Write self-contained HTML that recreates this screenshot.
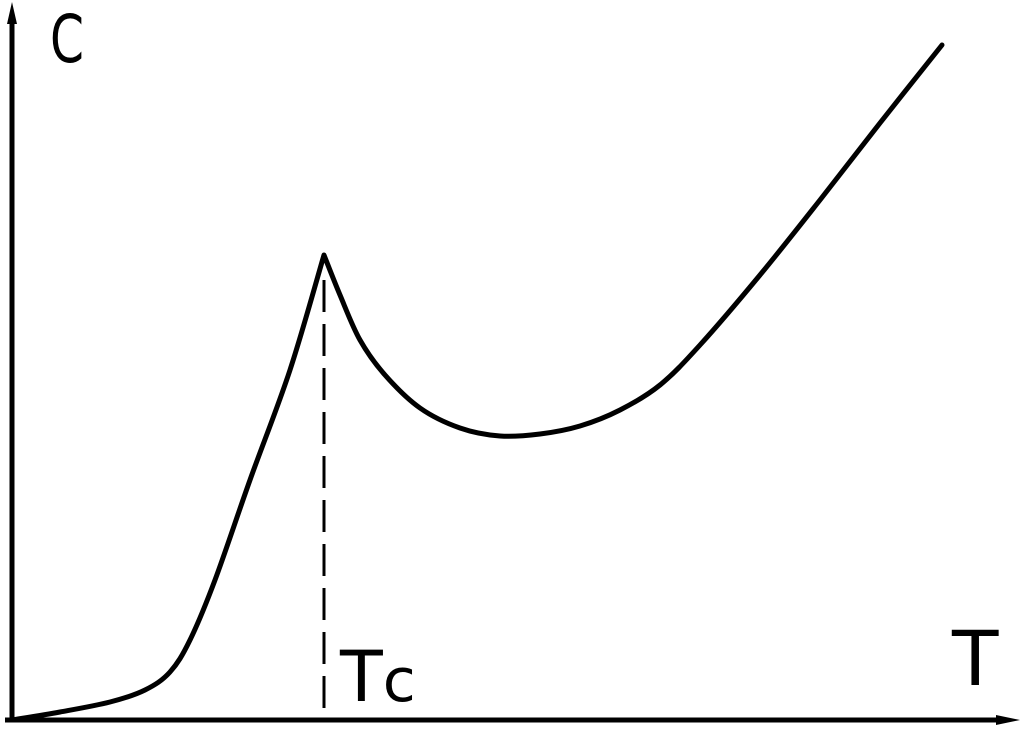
<!DOCTYPE html>
<html><head><meta charset="utf-8"><style>
html,body{margin:0;padding:0;background:#fff;width:1024px;height:730px;overflow:hidden}
svg{display:block}
text{font-family:"DejaVu Sans","Liberation Sans",sans-serif;fill:#000}
</style></head><body>
<svg id="chart" width="1024" height="730" viewBox="0 0 1024 730">
<g id="axes">
<line x1="12" y1="722" x2="12" y2="22" stroke="#000" stroke-width="5"/>
<path d="M12 2 L17 24 L7 24 Z" fill="#000"/>
<line x1="5" y1="720" x2="1000" y2="720" stroke="#000" stroke-width="5"/>
<path d="M1020 720 L996 715 L996 725 Z" fill="#000"/>
</g>
<text x="50" y="62" font-size="66" textLength="34" lengthAdjust="spacingAndGlyphs">C</text>
<text x="952" y="685" font-size="76">T</text>
<text x="340" y="701" font-size="70">T<tspan font-size="60">c</tspan></text>
<g id="marks"></g>
</svg>
<script>
// Temperature values (arbitrary units) and heat capacity values
const temps = [0,48,98,133,158,178,203,238,278,312,328,348,373,408,448,488,528,568,608,648,688,748,808,868,930];
const heat  = [0,8,18,30,48,80,140,240,350,465,425,380,345,312,292,284,286,294,310,335,375,445,520,597,675];
const tcValue = 312;
const xScale = t => 12 + t;
const yScale = c => 720 - c;
const NS = "http://www.w3.org/2000/svg";
const g = document.getElementById('marks');
const dash = document.createElementNS(NS,'line');


dash.setAttribute('x1', xScale(tcValue)); dash.setAttribute('x2', xScale(tcValue));
dash.setAttribute('y1', yScale(440)); dash.setAttribute('y2', 718);
dash.setAttribute('stroke','#000'); dash.setAttribute('stroke-width','3');
dash.setAttribute('stroke-dasharray','32 12');
g.appendChild(dash);
// smooth with Catmull-Rom, keeping a cusp at Tc
const P = temps.map((t,i)=>[xScale(t), yScale(heat[i])]);
const peak = temps.indexOf(tcValue);
function seg(a,b){
  let d='';
  for(let i=a;i<b;i++){
    const p0=P[Math.max(a,i-1)], p1=P[i], p2=P[i+1], p3=P[Math.min(b,i+2)];
    const c1=[p1[0]+(p2[0]-p0[0])/6, p1[1]+(p2[1]-p0[1])/6];
    const c2=[p2[0]-(p3[0]-p1[0])/6, p2[1]-(p3[1]-p1[1])/6];
    d+=` C${c1[0]},${c1[1]} ${c2[0]},${c2[1]} ${p2[0]},${p2[1]}`;
  }
  return d;
}
const d = `M${P[0][0]},${P[0][1]}` + seg(0,peak) + seg(peak,P.length-1);
const pl = document.createElementNS(NS,'path');


pl.setAttribute('d', d);
pl.setAttribute('fill','none'); pl.setAttribute('stroke','#000');
pl.setAttribute('stroke-width','5'); pl.setAttribute('stroke-linejoin','round'); pl.setAttribute('stroke-linecap','round');
g.appendChild(pl);
</script>
</body></html>
